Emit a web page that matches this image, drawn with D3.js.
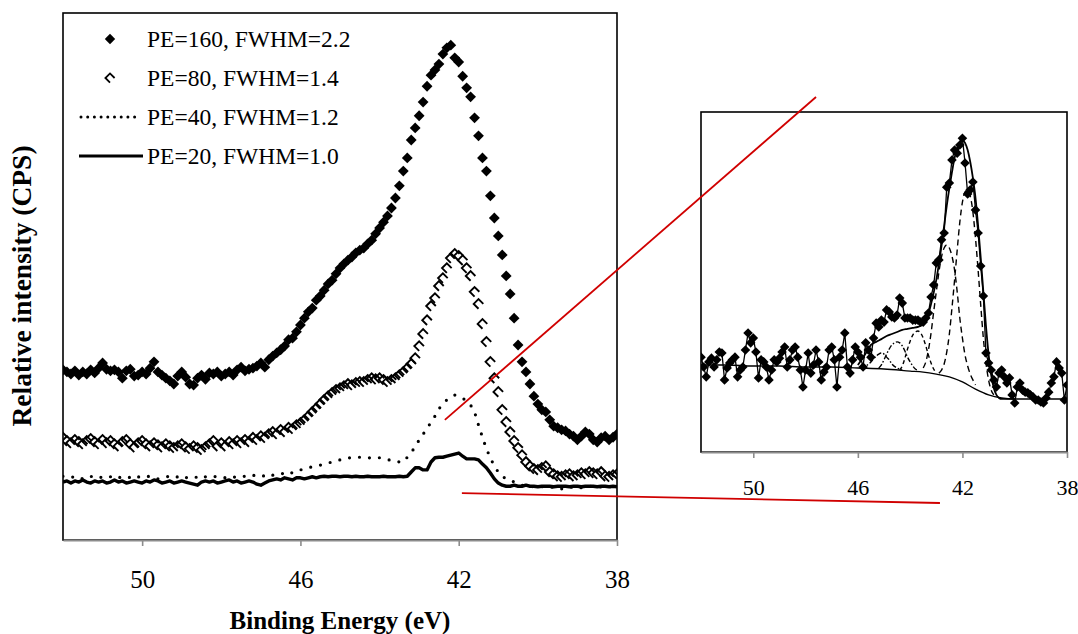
<!DOCTYPE html>
<html>
<head>
<meta charset="utf-8">
<script src="https://cdn.jsdelivr.net/npm/d3@7"></script>
<style>
  body { margin: 0; background: #fff; }
  svg { display: block; }
  text { font-family: "Liberation Serif", "Times New Roman", serif; fill: #000; }
</style>
</head>
<body>
<svg id="chart" width="1078" height="634"></svg>
<script>
// ---- Main panel data: Ga 3d region, binding energy grid 52.0 -> 38.0 eV, 0.1 eV step ----
const energies = d3.range(141).map(i => +(52 - i * 0.1).toFixed(1));

const pe160 = [
  32.3,31.9,31.5,32.1,31.3,31.9,31.5,32.3,31.7,32.6,
  33.6,32.4,32.1,32.3,31.9,30.7,32.1,32.4,31.1,31.3,
  31.9,31.5,32.6,33.8,31.9,31.3,30.7,30.2,29.6,31.1,
  31.9,30.9,29.6,29.4,30.7,31.3,30.5,31.7,31.5,31.9,
  31.1,31.5,31.9,31.3,32.3,32.8,32.1,32.4,32.6,33.0,
  33.6,32.8,34.2,34.9,35.5,36.1,36.8,38.0,38.3,39.5,
  40.8,42.1,43.3,44.0,45.5,46.3,47.4,48.6,49.3,50.5,
  51.6,52.4,53.1,53.7,54.5,55.0,55.4,56.2,56.9,58.1,
  59.2,60.3,61.5,63.0,64.9,67.2,70.0,72.5,75.9,78.2,
  80.5,83.1,86.1,88.2,89.2,90.3,92.2,93.4,93.9,91.5,
  90.7,88.0,85.8,84.1,80.1,76.7,72.5,70.0,65.3,61.1,
  57.7,54.1,50.1,46.7,42.1,37.0,33.8,31.9,29.6,27.3,
  25.8,24.7,24.3,22.8,21.6,21.3,20.9,20.7,20.1,19.7,
  19.0,19.7,20.5,20.1,19.0,18.6,19.4,19.7,19.0,19.5,20.1
];

const pe80 = [
  19.4,18.8,18.4,19.0,18.6,18.2,18.8,19.2,18.6,18.2,
  19.0,18.4,18.8,18.2,17.8,18.6,19.0,18.2,17.6,18.4,
  18.8,18.2,17.8,18.4,18.0,17.6,18.2,17.8,17.5,17.8,
  18.2,17.6,17.3,17.8,17.5,17.1,17.6,18.2,18.8,17.8,
  18.4,17.8,18.6,18.2,18.8,18.4,19.0,18.6,19.4,19.0,
  19.7,19.4,20.1,20.5,20.1,20.9,20.5,21.3,21.1,21.8,
  22.2,22.8,23.5,24.3,25.0,25.8,26.6,27.3,27.9,28.5,
  28.8,29.2,29.6,29.4,29.8,30.0,30.0,30.4,30.7,30.5,
  30.7,30.4,30.0,30.4,30.7,31.3,31.9,32.6,33.4,34.5,
  36.8,39.1,41.7,44.4,45.9,48.2,49.7,51.6,53.5,54.3,
  53.9,53.1,51.6,50.1,47.1,44.8,41.0,37.6,33.8,30.7,
  28.1,24.7,22.4,20.5,18.8,17.5,16.1,14.8,14.0,13.5,
  13.3,13.7,14.0,12.9,12.5,12.1,12.0,12.3,12.5,12.1,
  12.3,12.7,12.5,12.9,12.7,12.5,12.9,12.1,12.0,12.3,12.5
];

const pe40 = [
  12.1,12.0,11.8,12.1,12.0,11.6,12.0,12.1,11.8,12.0,
  11.8,12.1,12.0,11.6,11.8,12.0,12.1,11.8,11.6,12.0,
  11.8,12.0,12.1,11.8,11.6,11.8,12.0,12.1,11.8,12.0,
  11.6,11.8,12.0,12.1,11.8,11.6,12.0,11.8,12.0,12.1,
  12.0,11.8,12.1,12.0,11.8,12.0,12.1,12.0,12.3,12.1,
  12.3,12.1,12.5,12.3,12.5,12.7,12.5,12.9,12.7,13.1,
  13.3,13.5,13.7,13.9,14.0,14.2,14.4,14.6,14.8,15.0,
  15.2,15.4,15.6,15.6,15.7,15.7,15.7,15.6,15.6,15.7,
  15.6,15.4,15.2,15.2,15.0,14.8,14.8,15.7,16.7,17.6,
  19.0,20.1,21.1,22.4,23.5,24.9,25.8,26.6,27.1,27.5,
  27.3,26.9,26.4,25.6,24.3,21.8,19.5,17.3,15.6,14.0,
  12.9,12.1,11.6,11.4,11.0,10.6,10.4,10.2,10.2,10.1,
  10.2,10.1,10.1,9.9,10.1,9.9,9.7,9.9,10.1,9.9,
  10.1,9.9,10.1,10.2,10.1,9.9,10.1,9.9,10.1,10.1,9.9
];

const pe20 = [
  11.0,11.2,10.8,11.2,11.0,11.4,11.0,10.8,11.2,11.0,
  11.2,10.8,11.0,11.4,11.0,11.2,10.8,11.0,11.2,11.0,
  10.8,11.2,11.0,11.4,11.2,10.8,11.0,11.2,10.8,11.0,
  11.2,11.0,10.8,10.6,10.4,11.0,11.2,11.0,11.2,10.8,
  11.0,11.2,11.4,11.0,11.2,10.8,11.0,11.2,11.0,10.6,
  10.4,10.8,11.2,11.4,11.6,11.4,11.8,11.6,11.4,11.8,
  11.8,11.6,11.8,12.0,11.8,12.0,12.1,12.0,12.1,12.1,
  12.0,12.1,12.1,12.0,12.1,12.0,12.0,12.1,12.0,12.0,
  12.0,12.1,12.0,12.0,12.0,12.1,12.0,12.1,12.9,13.7,
  13.7,13.3,13.3,14.8,15.6,15.7,15.7,15.9,16.1,16.3,
  16.5,15.9,15.4,15.4,15.4,15.2,14.4,13.7,12.7,11.6,
  10.8,10.4,10.2,10.2,10.4,10.2,10.2,10.4,10.2,10.2,
  10.1,10.2,10.2,10.2,10.1,10.2,10.2,10.2,10.1,10.2,
  10.2,10.1,10.2,10.2,10.2,10.1,10.2,10.2,10.1,10.2,10.1
];

const seriesLabels = ["PE=160, FWHM=2.2", "PE=80, FWHM=1.4", "PE=40, FWHM=1.2", "PE=20, FWHM=1.0"];
const energyTicks = [50, 46, 42, 38];

// ---- Inset data: high-resolution scan with peak fit ----
const insetCounts = [
  27.9,25.0,22.1,26.5,27.6,25.0,27.1,29.4,29.1,21.2,
  24.7,26.2,27.1,27.9,22.1,24.1,25.0,30.0,35.0,32.1,
  33.5,29.4,21.8,27.1,26.5,25.0,21.2,24.1,27.1,26.5,
  27.6,29.4,30.9,25.0,27.1,30.0,30.9,27.9,24.1,19.1,
  24.1,29.1,23.2,25.6,30.0,26.5,21.2,23.5,25.0,30.0,
  30.9,27.1,19.1,27.9,30.0,35.0,25.0,23.2,27.1,30.9,
  29.4,27.9,25.0,32.1,30.0,27.9,33.5,37.9,36.8,38.8,
  38.2,41.8,41.2,39.7,39.4,40.3,45.3,43.8,39.4,39.4,
  39.4,38.8,38.8,38.8,38.2,38.2,39.4,40.9,45.6,49.1,
  55.6,56.5,62.4,64.4,77.9,79.1,85.9,88.8,87.9,90.3,
  92.3,85.0,75.9,77.1,79.4,71.2,64.4,54.7,45.9,29.1,
  26.2,24.1,21.2,19.1,23.2,24.1,22.1,20.3,21.8,16.8,
  14.4,19.1,20.3,18.2,17.6,17.4,16.8,16.2,15.3,15.3,
  14.7,14.4,15.9,17.6,20.3,22.1,26.5,24.7,23.2,15.3,19.7
];

// fitted envelope
const envelopeE = [46.0,45.8,45.6,45.5,45.3,45.1,44.9,44.7,44.5,44.3,44.1,43.9,43.7,43.5,43.4,43.3,43.2,43.1,43.0,
  42.9,42.8,42.7,42.6,42.5,42.4,42.3,42.2,42.1,42.0,41.9,41.8,41.7,41.6,41.5,41.4,41.3,41.2,41.1,41.0,
  40.9,40.8,40.7,40.6,40.5,40.0];
const envelopeV = [25.6,27.8,30.2,31.5,32.4,33.2,34.1,34.7,35.3,35.9,36.2,36.5,36.8,37.6,38.5,40.6,43.5,46.8,50.6,
  55.3,60.6,66.5,72.4,77.6,82.3,86.5,89.4,91.2,91.8,90.9,88.8,85.3,80.6,74.7,66.5,57.1,47.1,37.1,28.8,
  22.6,18.8,16.8,15.9,15.6,15.6];

// Shirley-type background
const backgroundE = [52,51,50,49,48,47,46,45,44,43.5,43,42.5,42,41.5,41,40.5,40,39,38];
const backgroundV = [25.6,25.6,25.3,25.3,25.0,25.0,24.7,24.4,23.8,23.5,22.9,22.1,20.6,18.5,16.8,15.9,15.6,15.6,15.6];

// fitted components (drawn on top of the background)
const grid = (start, n) => d3.range(n).map(i => +(start - i * 0.1).toFixed(1));
const compMainE = grid(42.9, 22);
const compMainV = [23.2,24.1,25.9,29.4,34.7,42.4,50.6,59.4,67.6,73.5,76.5,77.1,75.3,70.6,62.9,53.5,43.2,33.5,26.2,21.2,18.2,16.8];
const compSecondE = grid(43.5, 21);
const compSecondV = [24.7,26.5,30.0,35.0,41.2,47.1,52.9,57.4,60.0,60.9,60.0,57.6,53.5,47.1,39.4,33.5,28.5,25.3,22.9,21.2,19.7];
const compThirdE = grid(44.4, 15);
const compThirdV = [24.1,25.3,27.6,30.3,32.6,34.4,35.3,35.6,35.0,33.5,31.2,28.5,26.2,24.4,23.2];
const compFourthE = grid(45.2, 16);
const compFourthV = [24.7,25.6,27.1,28.8,30.3,31.5,32.1,32.4,32.1,31.2,29.7,27.9,26.5,25.3,24.4,24.1];
const compFifthE = [45.9,45.7,45.5,45.4,45.3,45.2,45.1,45.0,44.9,44.8,44.7,44.5,44.3];
const compFifthV = [24.7,25.3,26.5,27.4,28.2,28.8,29.1,28.8,27.9,27.1,25.9,24.7,24.1];

// connector annotations: point on main panel -> point in inset frame
const connectorFrom = [[42.35, 22.8], [41.92, 8.9]];
const connectorTo = [[47.6, 104.4], [42.86, -15.0]];

// ---------------------------------------------------------------
const svg = d3.select("#chart");
const serif = '"Liberation Serif", "Times New Roman", serif';
const main = { left: 63, right: 617, top: 13, bottom: 540 };
const inset = { left: 701, right: 1067, top: 112, bottom: 452 };

const x = d3.scaleLinear().domain([52, 38]).range([main.left, main.right]);
const y = d3.scaleLinear().domain([0, 100]).range([main.bottom, main.top]);
const xi = d3.scaleLinear().domain([52, 38]).range([inset.left, inset.right]);
const yi = d3.scaleLinear().domain([0, 100]).range([inset.bottom, inset.top]);

const defs = svg.append("defs");
defs.append("clipPath").attr("id", "clipMain").append("rect")
  .attr("x", main.left).attr("y", main.top)
  .attr("width", main.right - main.left).attr("height", main.bottom - main.top);
defs.append("clipPath").attr("id", "clipInset").append("rect")
  .attr("x", inset.left).attr("y", inset.top)
  .attr("width", inset.right - inset.left).attr("height", inset.bottom - inset.top);

const diamondPath = r => `M0,${-r}L${r},0L0,${r}L${-r},0Z`;
const openMarkerPath = r => `M${r},0L0,${-r}L${-r},0L0,${r}`;

// ---------- main panel ----------
const gMain = svg.append("g");
gMain.append("rect")
  .attr("x", main.left).attr("y", main.top)
  .attr("width", main.right - main.left).attr("height", main.bottom - main.top)
  .attr("fill", "#fff").attr("stroke", "#000").attr("stroke-width", 1.6);

const plot = gMain.append("g").attr("clip-path", "url(#clipMain)");
const lineMain = d3.line().x((d, i) => x(energies[i])).y(d => y(d));

plot.append("path").datum(pe20)
  .attr("d", lineMain).attr("fill", "none")
  .attr("stroke", "#000").attr("stroke-width", 3.4).attr("stroke-linejoin", "round");

plot.append("path").datum(pe40)
  .attr("d", lineMain).attr("fill", "none")
  .attr("stroke", "#000").attr("stroke-width", 3.2)
  .attr("stroke-linecap", "round").attr("stroke-dasharray", "0,10");

plot.append("g").selectAll("path").data(pe80).join("path")
  .attr("transform", (d, i) => `translate(${x(energies[i])},${y(d)})`)
  .attr("d", openMarkerPath(4.8))
  .attr("fill", "none").attr("stroke", "#000").attr("stroke-width", 1.9);

plot.append("g").selectAll("path").data(pe160).join("path")
  .attr("transform", (d, i) => `translate(${x(energies[i])},${y(d)})`)
  .attr("d", diamondPath(5.4))
  .attr("fill", "#000");

// x axis of main panel
const axisMain = d3.axisBottom(x).tickValues(energyTicks).tickSize(6).tickSizeOuter(0).tickFormat(d3.format("d"));
const gAxis = gMain.append("g").attr("transform", `translate(0,${main.bottom})`).call(axisMain);
gAxis.select(".domain").attr("stroke", "#8c8c8c").attr("stroke-width", 2);
gAxis.selectAll(".tick line").attr("stroke", "#8c8c8c").attr("stroke-width", 1.6);
gAxis.selectAll(".tick text")
  .attr("y", 30).attr("dy", "0.71em")
  .style("font-family", serif).style("font-size", "25px");

svg.append("text")
  .attr("x", (main.left + main.right) / 2).attr("y", 629)
  .attr("text-anchor", "middle")
  .style("font-family", serif)
  .style("font-size", "25px").style("font-weight", "bold")
  .text("Binding Energy (eV)");

svg.append("text")
  .attr("transform", "translate(31,286) rotate(-90)")
  .attr("text-anchor", "middle")
  .style("font-family", serif)
  .style("font-size", "27.5px").style("font-weight", "bold")
  .text("Relative intensity (CPS)");

// legend
const legend = gMain.append("g");
const legendRows = [39, 78, 117, 156];
const legendTextX = 147;
legendRows.forEach((ly, k) => {
  legend.append("text")
    .attr("x", legendTextX).attr("y", ly).attr("dy", "0.35em")
    .style("font-family", serif)
    .style("font-size", "23.5px").text(seriesLabels[k]);
});
legend.append("path").attr("transform", `translate(110,${legendRows[0]})`)
  .attr("d", diamondPath(5.2)).attr("fill", "#000");
legend.append("path").attr("transform", `translate(110,${legendRows[1]})`)
  .attr("d", openMarkerPath(4.6)).attr("fill", "none").attr("stroke", "#000").attr("stroke-width", 1.8);
legend.append("line")
  .attr("x1", 81).attr("x2", 141).attr("y1", legendRows[2]).attr("y2", legendRows[2])
  .attr("stroke", "#000").attr("stroke-width", 3).attr("stroke-linecap", "round").attr("stroke-dasharray", "0,6.7");
legend.append("line")
  .attr("x1", 79).attr("x2", 143).attr("y1", legendRows[3]).attr("y2", legendRows[3])
  .attr("stroke", "#000").attr("stroke-width", 3.2);

// ---------- inset panel ----------
const gInset = svg.append("g");
gInset.append("rect")
  .attr("x", inset.left).attr("y", inset.top)
  .attr("width", inset.right - inset.left).attr("height", inset.bottom - inset.top)
  .attr("fill", "#fff").attr("stroke", "#000").attr("stroke-width", 1.6);

const iplot = gInset.append("g").attr("clip-path", "url(#clipInset)");
const lineXY = (es, vs, curve) => d3.line().curve(curve || d3.curveLinear)
  .x((d, i) => xi(es[i])).y(d => yi(d))(vs);

iplot.append("path").attr("d", lineXY(backgroundE, backgroundV, d3.curveMonotoneX))
  .attr("fill", "none").attr("stroke", "#000").attr("stroke-width", 1.4);

const components = [
  { e: compMainE, v: compMainV, dash: "6,4" },
  { e: compSecondE, v: compSecondV, dash: "6,4" },
  { e: compThirdE, v: compThirdV, dash: "4,3" },
  { e: compFourthE, v: compFourthV, dash: "5,2,1.5,2" },
  { e: compFifthE, v: compFifthV, dash: "5,2,1.5,2" }
];
components.forEach(c => {
  iplot.append("path").attr("d", lineXY(c.e, c.v, d3.curveMonotoneX))
    .attr("fill", "none").attr("stroke", "#000").attr("stroke-width", 1.4)
    .attr("stroke-dasharray", c.dash);
});

iplot.append("path").attr("d", lineXY(envelopeE, envelopeV, d3.curveMonotoneX))
  .attr("fill", "none").attr("stroke", "#000").attr("stroke-width", 1.8);

iplot.append("path").attr("d", lineXY(energies, insetCounts))
  .attr("fill", "none").attr("stroke", "#000").attr("stroke-width", 1.3);

iplot.append("g").selectAll("path").data(insetCounts).join("path")
  .attr("transform", (d, i) => `translate(${xi(energies[i])},${yi(d)})`)
  .attr("d", diamondPath(4.8)).attr("fill", "#000");

const axisInset = d3.axisBottom(xi).tickValues(energyTicks).tickSize(6).tickSizeOuter(0).tickFormat(d3.format("d"));
const gAxisI = gInset.append("g").attr("transform", `translate(0,${inset.bottom})`).call(axisInset);
gAxisI.select(".domain").attr("stroke", "#8c8c8c").attr("stroke-width", 2);
gAxisI.selectAll(".tick line").attr("stroke", "#8c8c8c").attr("stroke-width", 1.6);
gAxisI.selectAll(".tick text")
  .attr("y", 27).attr("dy", "0.71em")
  .style("font-family", serif).style("font-size", "22px");

// ---------- connectors ----------
connectorFrom.forEach((f, k) => {
  const t = connectorTo[k];
  svg.append("line")
    .attr("x1", x(f[0])).attr("y1", y(f[1]))
    .attr("x2", xi(t[0])).attr("y2", yi(t[1]))
    .attr("stroke", "#d00000").attr("stroke-width", 1.8);
});
</script>
</body>
</html>
